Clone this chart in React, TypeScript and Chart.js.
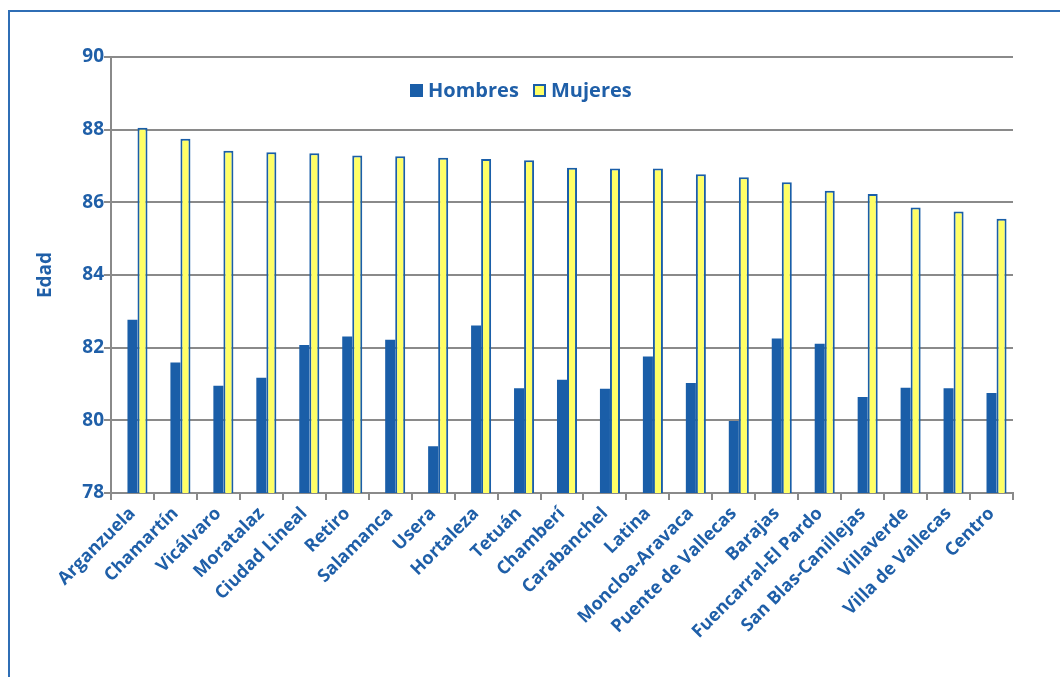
import React, { useEffect, useRef } from 'react';
import { Chart, registerables } from 'chart.js';

Chart.register(...registerables);

const districts = [
  'Arganzuela', 'Chamartín', 'Vicálvaro', 'Moratalaz', 'Ciudad Lineal', 'Retiro', 'Salamanca',
  'Usera', 'Hortaleza', 'Tetuán', 'Chamberí', 'Carabanchel', 'Latina', 'Moncloa-Aravaca',
  'Puente de Vallecas', 'Barajas', 'Fuencarral-El Pardo', 'San Blas-Canillejas', 'Villaverde',
  'Villa de Vallecas', 'Centro',
];

const hombres = [
  82.77, 81.59, 80.95, 81.17, 82.07, 82.31, 82.22, 79.29, 82.61, 80.88, 81.12,
  80.87, 81.76, 81.03, 79.98, 82.25, 82.11, 80.64, 80.90, 80.88, 80.75,
];

const mujeres = [
  88.05, 87.75, 87.42, 87.38, 87.35, 87.29, 87.27, 87.23, 87.19, 87.16, 86.95,
  86.93, 86.93, 86.77, 86.69, 86.55, 86.32, 86.23, 85.86, 85.75, 85.55,
];

// empty first series of the original workbook (keeps the bar slots in place)
const emptySeries = [
  null, null, null, null, null, null, null, null, null, null, null,
  null, null, null, null, null, null, null, null, null, null,
];

const yMin = 78;
const yMax = 90;
const yStep = 2;

const BLUE = '#1a5ea8';
const TEXT = '#1f5fa8';
const YELLOW = '#ffff66';
const GRID = '#8a8a8a';
const FONT = "'Open Sans', sans-serif";

export default function App() {
  const ref = useRef<HTMLCanvasElement | null>(null);

  useEffect(() => {
    if (!ref.current) return;
    const chart = new Chart(ref.current, {
      type: 'bar',
      data: {
        labels: districts,
        datasets: [
          {
            label: '',
            data: emptySeries as any,
            backgroundColor: BLUE,
          },
          {
            label: 'Hombres',
            data: hombres,
            backgroundColor: BLUE,
            borderColor: BLUE,
            borderWidth: 0,
          },
          {
            label: 'Mujeres',
            data: mujeres,
            backgroundColor: YELLOW,
            borderColor: BLUE,
            borderWidth: 2,
          },
        ],
      },
      options: {
        responsive: false,
        animation: false,
        devicePixelRatio: 1,
        layout: { padding: { left: 32, top: 57, right: 47, bottom: 0 } },
        datasets: {
          bar: { categoryPercentage: 0.7, barPercentage: 1.0 },
        },
        plugins: {
          legend: { display: false },
          tooltip: { enabled: false },
        },
        scales: {
          x: {
            offset: true,
            grid: {
              display: true,
              drawOnChartArea: false,
              drawTicks: true,
              tickLength: 7,
              color: GRID,
              lineWidth: 2,
              offset: true,
            },
            border: { display: true, color: GRID, width: 2 },
            ticks: {
              minRotation: 45,
              maxRotation: 45,
              autoSkip: false,
              color: TEXT,
              padding: 3,
              font: { family: FONT, size: 18, weight: 'bold' },
            },
            afterFit: (scale: any) => {
              scale.height = 184;
            },
          },
          y: {
            min: yMin,
            max: yMax,
            ticks: {
              stepSize: yStep,
              color: TEXT,
              padding: 0,
              font: { family: FONT, size: 19, weight: 'bold' },
            },
            grid: {
              color: GRID,
              lineWidth: 2,
              tickLength: 7,
              drawTicks: true,
            },
            border: { display: true, color: GRID, width: 2 },
            title: {
              display: true,
              text: 'Edad',
              color: TEXT,
              padding: { top: 2, bottom: 0 },
              font: { family: FONT, size: 19, weight: 'bold' },
            },
            afterFit: (scale: any) => {
              scale.width = 79;
            },
          },
        },
      },
    });
    return () => chart.destroy();
  }, []);

  const legendText: React.CSSProperties = {
    position: 'absolute',
    top: 77,
    fontFamily: FONT,
    fontWeight: 'bold',
    fontSize: 20,
    lineHeight: '26px',
    color: TEXT,
    whiteSpace: 'nowrap',
  };

  return (
    <div
      style={{
        position: 'absolute',
        left: 0,
        top: 0,
        width: 1060,
        height: 677,
        overflow: 'hidden',
        background: '#ffffff',
      }}
    >
      <div
        style={{
          position: 'absolute',
          left: 8,
          top: 10,
          width: 1200,
          height: 800,
          border: '2px solid #2f6eb5',
          boxSizing: 'border-box',
        }}
      />
      <canvas
        ref={ref}
        width={1060}
        height={677}
        style={{ position: 'absolute', left: 0, top: 0, width: 1060, height: 677 }}
      />
      <div
        style={{
          position: 'absolute',
          left: 410,
          top: 84,
          width: 13,
          height: 13,
          background: BLUE,
        }}
      />
      <div style={{ ...legendText, left: 428 }}>Hombres</div>
      <div
        style={{
          position: 'absolute',
          left: 533,
          top: 84,
          width: 13,
          height: 13,
          background: YELLOW,
          border: `2px solid ${BLUE}`,
          boxSizing: 'border-box',
        }}
      />
      <div style={{ ...legendText, left: 551 }}>Mujeres</div>
    </div>
  );
}
